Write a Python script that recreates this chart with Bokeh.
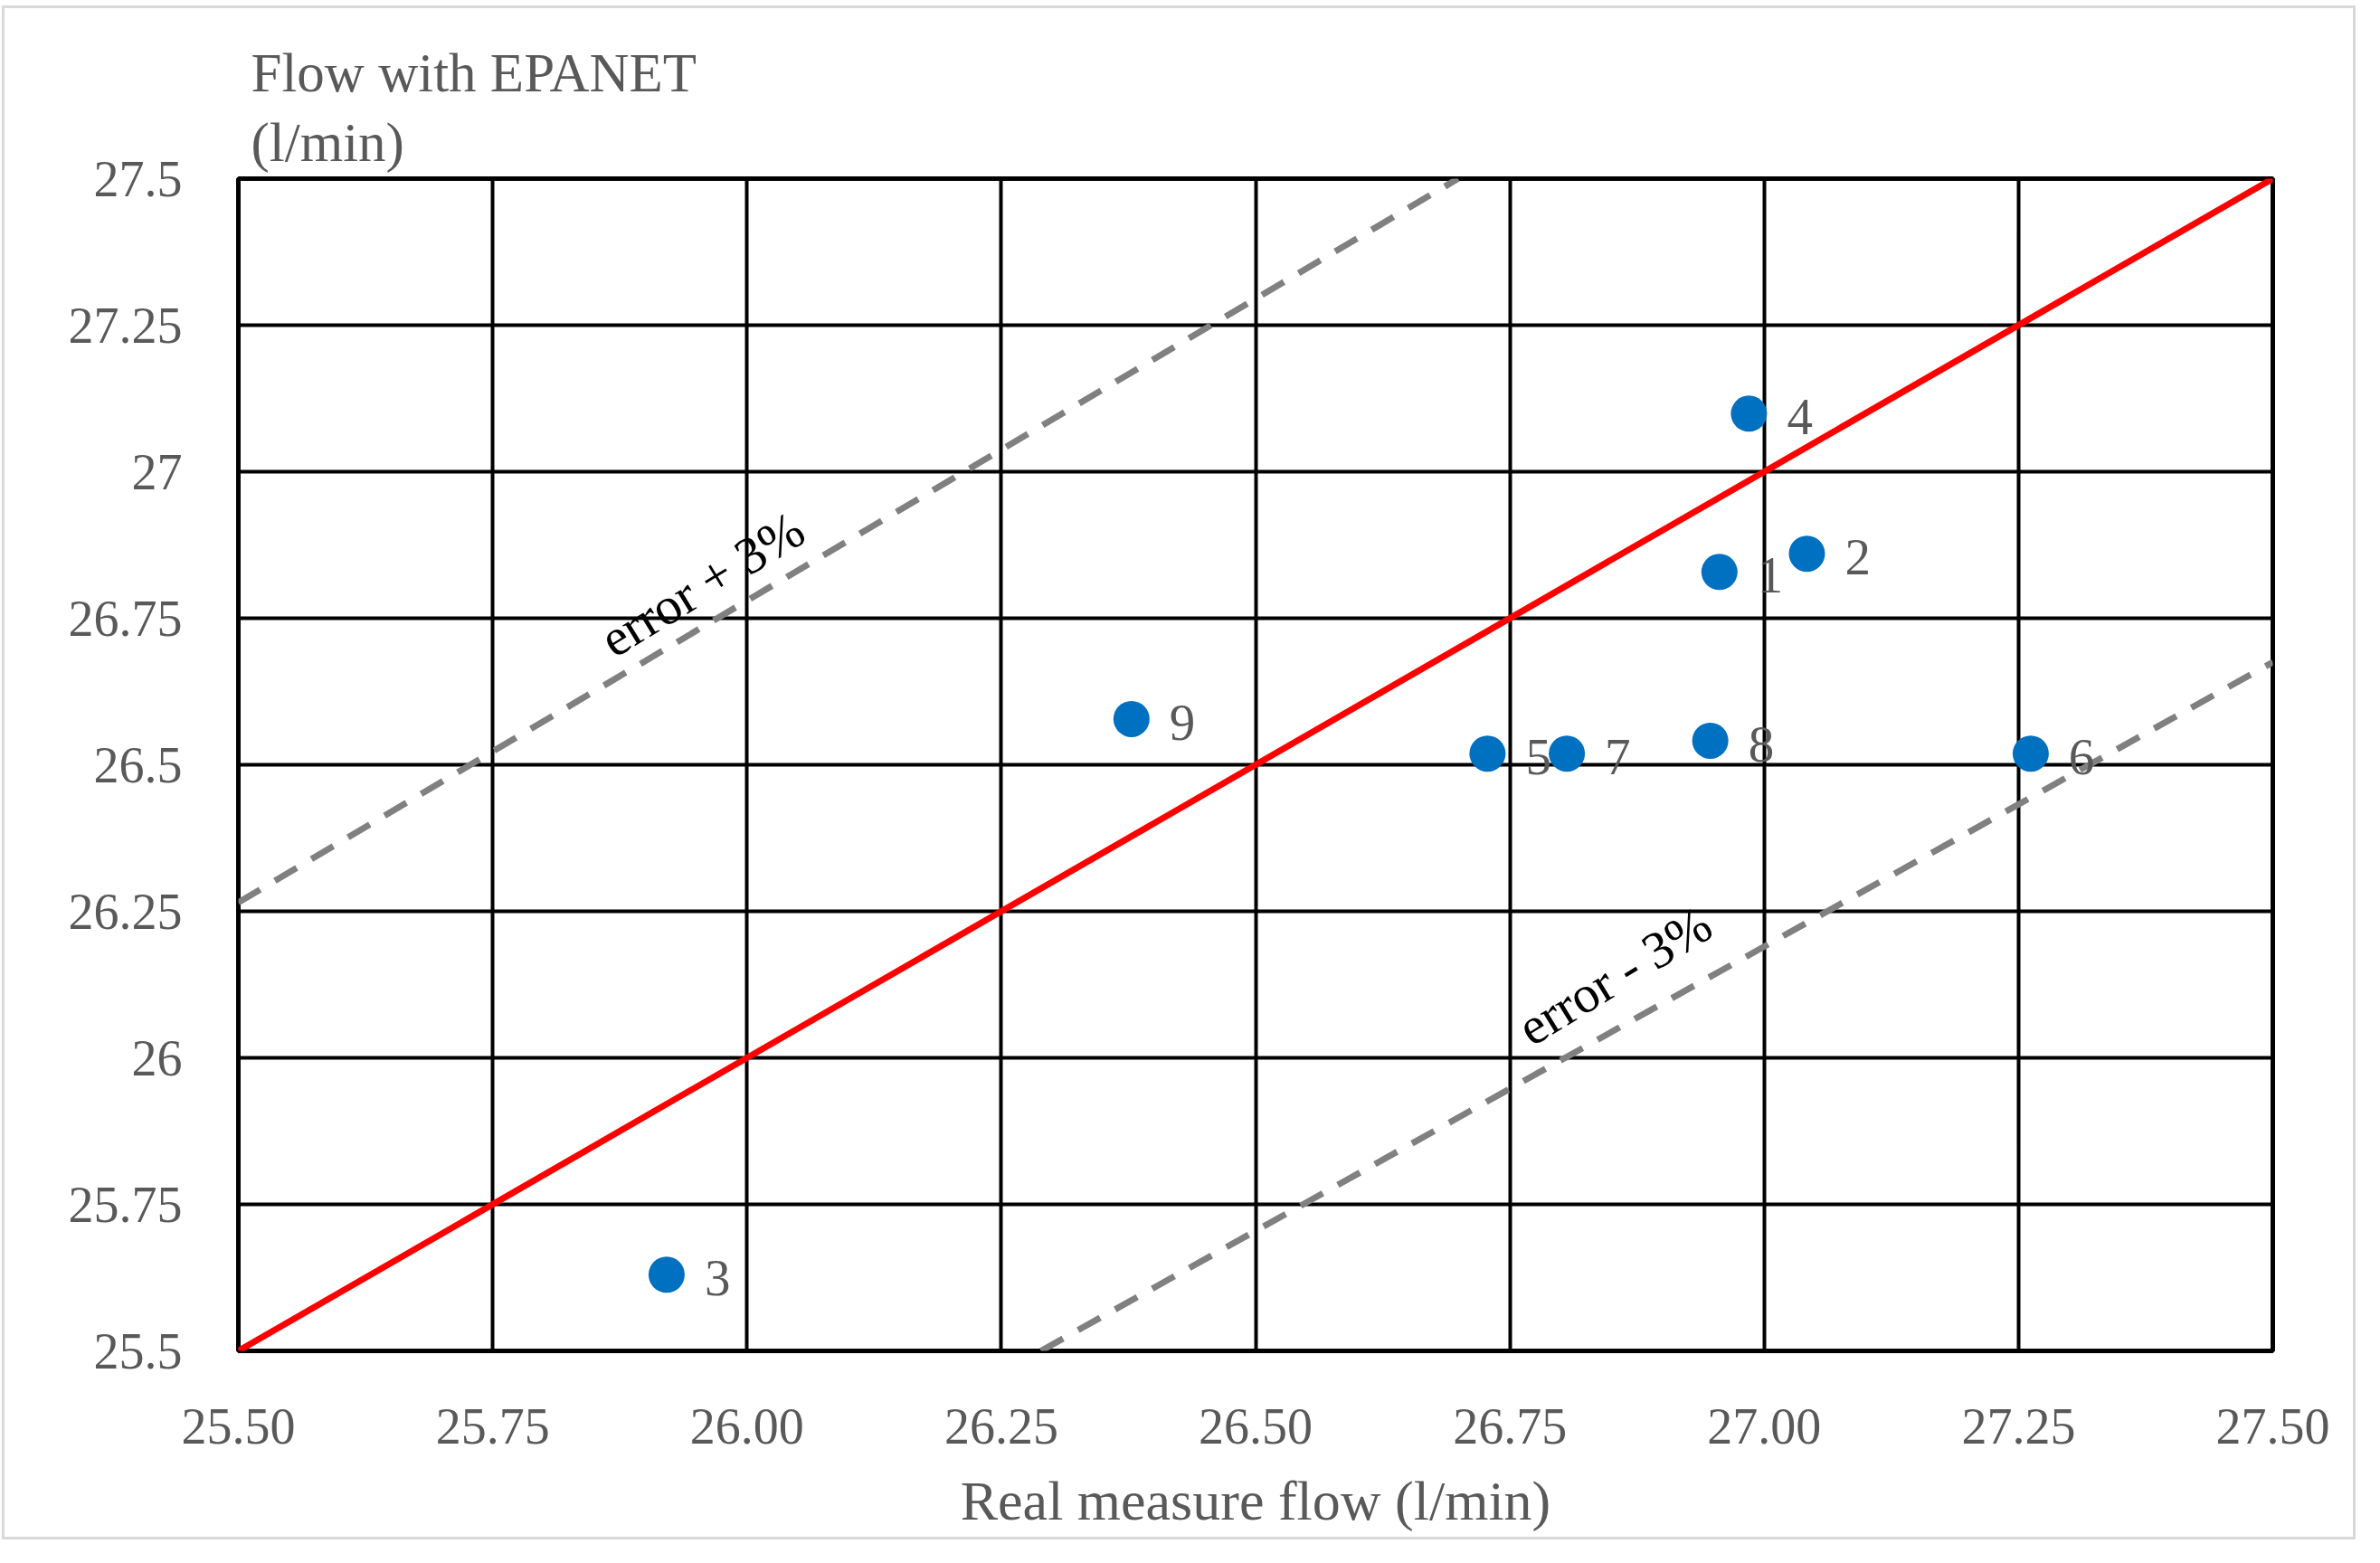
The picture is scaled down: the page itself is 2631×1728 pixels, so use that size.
from bokeh.plotting import figure
from bokeh.models import FixedTicker, Range1d, ColumnDataSource
from bokeh.core.properties import value
from bokeh.embed import file_html
from bokeh.resources import INLINE

# ---- data ----
point_ids = ["1", "2", "3", "4", "5", "6", "7", "8", "9"]
real_flow = [26.956, 27.042, 25.921, 26.985, 26.728, 27.262, 26.806, 26.947, 26.378]
epanet_flow = [26.829, 26.860, 25.630, 27.099, 26.519, 26.519, 26.519, 26.541, 26.578]

x_ticks = [25.5, 25.75, 26.0, 26.25, 26.5, 26.75, 27.0, 27.25, 27.5]
x_tick_labels = ["25.50", "25.75", "26.00", "26.25", "26.50", "26.75", "27.00", "27.25", "27.50"]
y_ticks = [25.5, 25.75, 26.0, 26.25, 26.5, 26.75, 27.0, 27.25, 27.5]
y_tick_labels = ["25.5", "25.75", "26", "26.25", "26.5", "26.75", "27", "27.25", "27.5"]

ideal_x = [25.5, 27.5]
ideal_y = [25.5, 27.5]
upper_x = [25.5, 26.699]      # error +3 %
upper_y = [26.265, 27.5]
lower_x = [26.289, 27.5]      # error -3 %
lower_y = [25.5, 26.675]

err_labels = ["error + 3%", "error - 3%"]
err_label_x = [25.956, 26.853]
err_label_y = [26.808, 26.140]

FONT = "Liberation Serif"
GREY = "#595959"

p = figure(width=2602, height=1696, output_backend="svg", toolbar_location=None,
           x_range=Range1d(25.5, 27.5), y_range=Range1d(25.5, 27.5),
           min_border_left=258, min_border_right=95, min_border_top=188, min_border_bottom=212)
p.styles = {"border": "3px solid #d9d9d9", "margin-left": "2px", "margin-top": "6px"}

p.title.text = "Flow with EPANET\n(l/min)"
p.title.align = "left"
p.title.offset = 14
p.title.text_font = FONT
p.title.text_font_size = "61px"
p.title.text_font_style = "normal"
p.title.text_color = GREY
p.title.text_line_height = 1.15
p.title.standoff = 13

for ax, ticks, labels in ((p.xaxis, x_ticks, x_tick_labels), (p.yaxis, y_ticks, y_tick_labels)):
    ax.ticker = FixedTicker(ticks=ticks)
    ax.major_label_overrides = {t: l for t, l in zip(ticks, labels)}
    ax.major_label_text_font = FONT
    ax.major_label_text_font_size = "56px"
    ax.major_label_text_color = GREY
    ax.major_tick_line_color = None
    ax.minor_tick_line_color = None
    ax.axis_line_color = None
p.xaxis.major_label_standoff = 58
p.yaxis.major_label_standoff = 56

p.xaxis.axis_label = "Real measure flow (l/min)"
p.xaxis.axis_label_text_font = FONT
p.xaxis.axis_label_text_font_size = "62px"
p.xaxis.axis_label_text_font_style = "normal"
p.xaxis.axis_label_text_color = GREY
p.xaxis.axis_label_standoff = 26

p.xgrid.ticker = FixedTicker(ticks=x_ticks)
p.ygrid.ticker = FixedTicker(ticks=y_ticks)
p.grid.grid_line_color = "black"
p.grid.grid_line_width = 4
p.grid.grid_line_alpha = 1.0

p.outline_line_color = "black"
p.outline_line_width = 5

p.line(upper_x, upper_y, line_color="#808080", line_width=7, line_dash="28 19")
p.line(lower_x, lower_y, line_color="#808080", line_width=7, line_dash="28 19")
p.line(ideal_x, ideal_y, line_color="#ff0000", line_width=7)

p.text(err_label_x, err_label_y, text=err_labels, angle=0.55,
       text_font=value(FONT), text_font_size="58px", text_color="black",
       text_align="center", text_baseline="middle")

src = ColumnDataSource(dict(x=real_flow, y=epanet_flow, t=point_ids))
p.text("x", "y", text="t", source=src, x_offset=42, y_offset=4,
       text_font=value(FONT), text_font_size="57px", text_color=GREY,
       text_align="left", text_baseline="middle")
p.scatter("x", "y", source=src, size=40, fill_color="#0070c0", line_color=None)

open("out.html", "w").write(file_html(p, INLINE))
